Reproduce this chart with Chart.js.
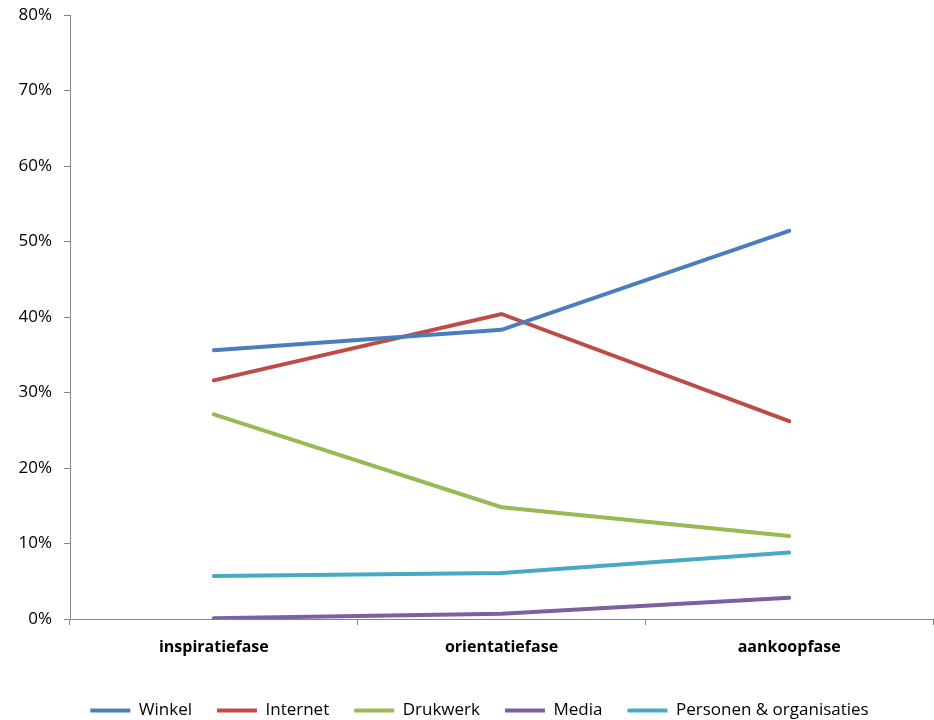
<!DOCTYPE html>
<html>
<head>
<meta charset="utf-8">
<script src="https://cdn.jsdelivr.net/npm/chart.js@4/dist/chart.umd.min.js"></script>
<style>
  html, body { margin: 0; padding: 0; background: #fff; }
  #wrap { width: 934px; height: 720px; position: relative; }
</style>
</head>
<body>
<div id="wrap"><canvas id="c" width="934" height="720"></canvas></div>
<script>
// Share of sources per purchase phase (percent)
const phases = ['inspiratiefase', 'orientatiefase', 'aankoopfase'];
const winkel = [35.6, 38.3, 51.4];
const internet = [31.6, 40.4, 26.2];
const drukwerk = [27.1, 14.8, 11.0];
const media = [0.1, 0.7, 2.8];
const personen = [5.7, 6.1, 8.8];

const seriesNames = ['Winkel', 'Internet', 'Drukwerk', 'Media', 'Personen & organisaties'];
const seriesColors = ['#4a7ebb', '#be4b48', '#98b954', '#7d60a0', '#46aac5'];
const seriesValues = [winkel, internet, drukwerk, media, personen];

const yTicksMax = 80;
const yStep = 10;

const FONT = "'Open Sans', 'DejaVu Sans', sans-serif";
const AXIS_GREY = '#868686';

const datasets = seriesNames.map((name, i) => ({
  label: name,
  data: seriesValues[i],
  borderColor: seriesColors[i],
  backgroundColor: seriesColors[i],
  borderWidth: 4,
  borderCapStyle: 'round',
  borderJoinStyle: 'miter',
  pointRadius: 0,
  pointHoverRadius: 0,
  tension: 0,
  fill: false
}));

// Nudge the legend row a little to the right of centre
const legendShift = {
  id: 'legendShift',
  afterLayout(chart) {
    const lg = chart.legend;
    if (lg) { lg.left += 13; lg.right += 13; }
  }
};

new Chart(document.getElementById('c'), {
  type: 'line',
  data: { labels: phases, datasets },
  plugins: [legendShift],
  options: {
    responsive: false,
    animation: false,
    events: [],
    layout: { padding: { top: 15, right: 1, left: 0, bottom: -9 } },
    plugins: {
      tooltip: { enabled: false },
      legend: {
        position: 'bottom',
        labels: {
          usePointStyle: true,
          pointStyle: 'line',
          pointStyleWidth: 40,
          padding: 25,
          color: '#000',
          font: { family: FONT, size: 17 }
        }
      }
    },
    scales: {
      x: {
        offset: true,
        grid: {
          offset: true,
          drawOnChartArea: false,
          drawTicks: true,
          tickLength: 6,
          color: AXIS_GREY,
          lineWidth: 1
        },
        border: { display: true, color: AXIS_GREY, width: 1 },
        ticks: {
          color: '#000',
          padding: 13,
          maxRotation: 0,
          font: { family: FONT, size: 16, weight: 'bold' }
        },
        afterFit(scale) { scale.height = 58; }
      },
      y: {
        min: 0,
        max: yTicksMax,
        grid: {
          drawOnChartArea: false,
          drawTicks: true,
          tickLength: 6,
          color: AXIS_GREY,
          lineWidth: 1
        },
        border: { display: true, color: AXIS_GREY, width: 1 },
        ticks: {
          stepSize: yStep,
          color: '#000',
          padding: 12,
          font: { family: FONT, size: 17 },
          callback: v => v + '%'
        },
        afterFit(scale) {
          scale.width = 70;
          scale.paddingTop = 0;
          scale.paddingBottom = 0;
        }
      }
    }
  }
});
</script>
</body>
</html>
